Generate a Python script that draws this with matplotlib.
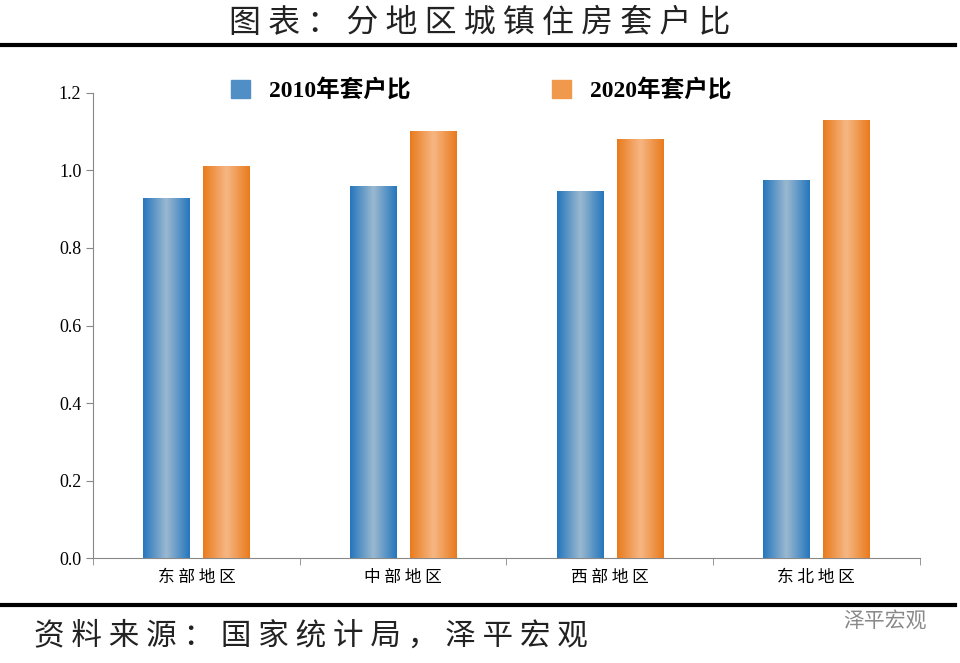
import numpy as np
import matplotlib.pyplot as plt
from matplotlib.colors import LinearSegmentedColormap
from matplotlib.patches import Rectangle

plt.rcParams['font.family'] = ['Noto Sans CJK SC', 'DejaVu Sans']

regions = ['东部地区', '中部地区', '西部地区', '东北地区']
ratio_2010 = [0.926, 0.957, 0.945, 0.973]
ratio_2020 = [1.009, 1.099, 1.079, 1.128]

fig = plt.figure(figsize=(9.6, 6.63), dpi=100)
ax = fig.add_axes([0.097, 0.158, 0.861, 0.702])

blue = LinearSegmentedColormap.from_list('b', ['#2677bd', '#9bb9d0', '#2677bd'])
orange = LinearSegmentedColormap.from_list('o', ['#e97b1e', '#f6b784', '#e97b1e'])
grad = np.linspace(0, 1, 64).reshape(1, -1)

x = np.arange(len(regions))
w = 0.223
off = 0.145
for xs, vals, cmap, lab in [(x - off, ratio_2010, blue, '2010年套户比'),
                            (x + off, ratio_2020, orange, '2020年套户比')]:
    bars = ax.bar(xs, vals, width=w, color=cmap(0.0), label=lab, zorder=2)
    for b in bars:
        ax.imshow(grad, cmap=cmap, aspect='auto', zorder=3,
                  extent=[b.get_x(), b.get_x() + b.get_width(), 0, b.get_height()])

ax.set_xlim(-0.5, 3.5)
ax.set_ylim(0, 1.2)
ax.set_yticks(np.arange(0, 1.21, 0.2))
ax.set_yticklabels([f'{v:.1f}' for v in np.arange(0, 1.21, 0.2)],
                   family=['Liberation Serif'], fontsize=13)
ax.set_xticks(x)
ax.set_xticklabels([' '.join(r) for r in regions], fontsize=12)
ax.set_xticks(np.arange(-0.5, 3.6, 1), minor=True)
ax.tick_params(axis='x', which='major', length=0, pad=8)
ax.tick_params(axis='x', which='minor', length=5, color='#888888')
ax.tick_params(axis='y', length=5, color='#888888')
for s in ['top', 'right']:
    ax.spines[s].set_visible(False)
for s in ['left', 'bottom']:
    ax.spines[s].set_color('#888888')

# legend
handles = [Rectangle((0, 0), 1, 1, color='#4f8fc6'), Rectangle((0, 0), 1, 1, color='#f0984c')]
leg = ax.legend(handles, ['2010年套户比', '2020年套户比'], loc='upper center',
                bbox_to_anchor=(0.47, 1.075), ncol=2, frameon=False,
                handlelength=0.8, handleheight=0.8, columnspacing=6,
                prop={'family': ['Liberation Serif', 'Noto Sans CJK SC'], 'weight': 'bold', 'size': 17})

fig.text(0.5, 0.965, ' '.join('图表：分地区城镇住房套户比'), ha='center', va='center', fontsize=23, color='#222222')
fig.add_artist(plt.Line2D([0.0, 0.995], [0.932, 0.932], color='black', lw=3))
fig.add_artist(plt.Line2D([0.0, 0.995], [0.087, 0.087], color='black', lw=3))
fig.text(0.035, 0.04, ' '.join('资料来源：国家统计局，泽平宏观'), ha='left', va='center', fontsize=22,
         style='italic', color='#222222')
fig.text(0.965, 0.062, '泽平宏观', ha='right', va='center', fontsize=15, color='#888888')

fig.savefig('out.png', dpi=100)
